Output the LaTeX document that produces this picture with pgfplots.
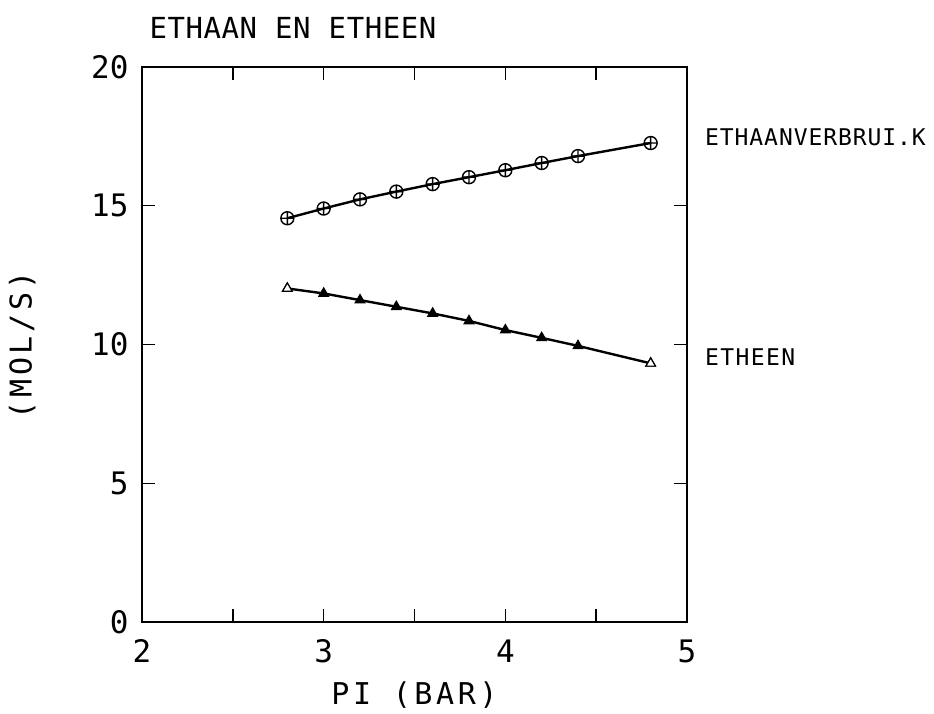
\documentclass[border=0pt]{standalone}
\usepackage{fontspec}
\setmainfont{DejaVu Sans Mono}
\usepackage{pgfplots}
\pgfplotsset{compat=1.18}

% Ethane consumption and ethene production versus inlet pressure
\pgfplotstableread{
p    rate
2.8  14.55
3.0  14.90
3.2  15.23
3.4  15.51
3.6  15.78
3.8  16.03
4.0  16.28
4.2  16.54
4.4  16.79
4.8  17.26
}\ethaan
\pgfplotstableread{
p    rate
2.8  12.02
3.0  11.84
3.2  11.60
3.4  11.36
3.6  11.12
3.8  10.85
4.0  10.52
4.2  10.24
4.4  9.95
4.8  9.32
}\etheen
\pgfplotstableread{
p    rate
2.8  12.02
4.8  9.32
}\etheenends

\begin{document}
\begin{tikzpicture}
\path[use as bounding box] (0,0) rectangle (934pt,713pt);
\begin{axis}[
  at={(142pt,91pt)}, anchor=south west,
  scale only axis, width=545pt, height=555pt,
  xmin=2, xmax=5, ymin=0, ymax=20,
  xtick={2,2.5,...,5}, xticklabels={2,,3,,4,,5},
  ytick={0,5,10,15,20},
  tick align=inside, major tick length=13pt,
  axis line style={line width=1.5pt},
  every tick/.style={line width=1.5pt, black},
  /pgf/number format/assume math mode=true,
  ticklabel style={font=\fontsize{31}{31}\selectfont},
  xticklabel style={yshift=-14pt},
  yticklabel style={xshift=-10pt},
  clip=false,
  xlabel={PI (BAR)},
  xlabel style={font=\fontsize{30}{30}\selectfont\addfontfeatures{LetterSpace=12},
    at={(axis description cs:0.5,-0.1315)}, anchor=center},
  ylabel={(MOL/S)},
  ylabel style={font=\fontsize{30}{30}\selectfont\addfontfeatures{LetterSpace=12},
    at={(axis description cs:-0.220,0.499)}, anchor=center},
]
\addplot[black, line width=2.4pt, mark=oplus, mark size=6.5pt,
  mark options={line width=1.4pt, fill=white}] table[x=p, y=rate] {\ethaan};
\addplot[black, line width=2.4pt, mark=triangle*, mark size=5.5pt,
  mark options={line width=1.2pt}] table[x=p, y=rate] {\etheen};
\addplot[only marks, black, mark=triangle*, mark size=5.5pt,
  mark options={line width=1.2pt, fill=white}] table[x=p, y=rate] {\etheenends};

\node[anchor=center, font=\fontsize{29}{29}\selectfont\addfontfeatures{LetterSpace=2}]
  at (axis description cs:0.277,1.070) {ETHAAN EN ETHEEN};
\node[anchor=west, inner sep=0pt, font=\fontsize{23}{23}\selectfont\addfontfeatures{LetterSpace=4}]
  at (axis description cs:1.033,0.874) {ETHAANVERBRUI.K};
\node[anchor=west, inner sep=0pt, font=\fontsize{23}{23}\selectfont\addfontfeatures{LetterSpace=6}]
  at (axis description cs:1.033,0.4775) {ETHEEN};
\end{axis}
\end{tikzpicture}
\end{document}
